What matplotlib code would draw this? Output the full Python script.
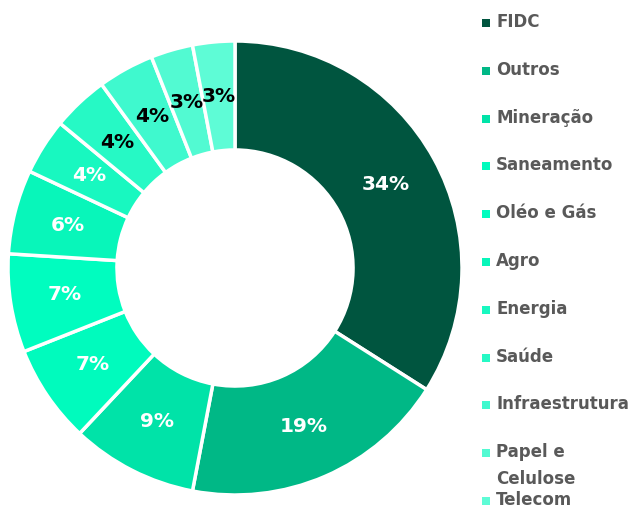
import matplotlib
matplotlib.use('Agg')
from matplotlib import pyplot as plt

# Sector split (percent), clockwise from 12 o'clock
sectors = ['FIDC', 'Outros', 'Mineração', 'Saneamento', 'Oléo e Gás', 'Agro',
           'Energia', 'Saúde', 'Infraestrutura', 'Papel e\nCelulose', 'Telecom']
shares = [34, 19, 9, 7, 7, 6, 4, 4, 4, 3, 3]
colors = ['#00553F', '#00B886', '#00E3A8', '#00FBBD', '#00FDBF', '#08F6BA',
          '#18F8C0', '#26F9C5', '#3FF9CE', '#52FAD2', '#5EFCD6']
label_colors = ['white'] * 7 + ['black'] * 4


def main():
    fig = plt.figure(figsize=(6.33, 5.08), dpi=100)

    # donut
    ax = fig.add_axes([8 / 633, 13 / 508, 454 / 633, 454 / 508])
    wedges, _, pcts = ax.pie(
        shares, colors=colors, startangle=90, counterclock=False,
        radius=1.0, autopct=lambda p: f'{round(p)}%', pctdistance=0.76,
        wedgeprops=dict(width=0.48, edgecolor='white', linewidth=2.5),
    )
    for t, c in zip(pcts, label_colors):
        t.set_color(c)
        t.set_fontsize(14.5)
        t.set_fontweight('bold')
    ax.set_xlim(-1, 1)
    ax.set_ylim(-1, 1)
    ax.set_aspect('equal')

    # legend drawn by hand (pixel coords)
    lg = fig.add_axes([0, 0, 1, 1])
    lg.set_xlim(0, 633)
    lg.set_ylim(508, 0)
    lg.axis('off')
    for i, (name, col) in enumerate(zip(sectors, colors)):
        y = 22 + 47.8 * i
        lg.scatter([486], [y + 1], marker='s', s=28, color=col, linewidths=0)
        for j, line in enumerate(name.split('\n')):
            lg.text(496, y + 27 * j, line, fontsize=12, fontweight='bold',
                    color='#595959', va='center', ha='left')

    fig.savefig('out.png', dpi=100)


if __name__ == "__main__":
    main()
